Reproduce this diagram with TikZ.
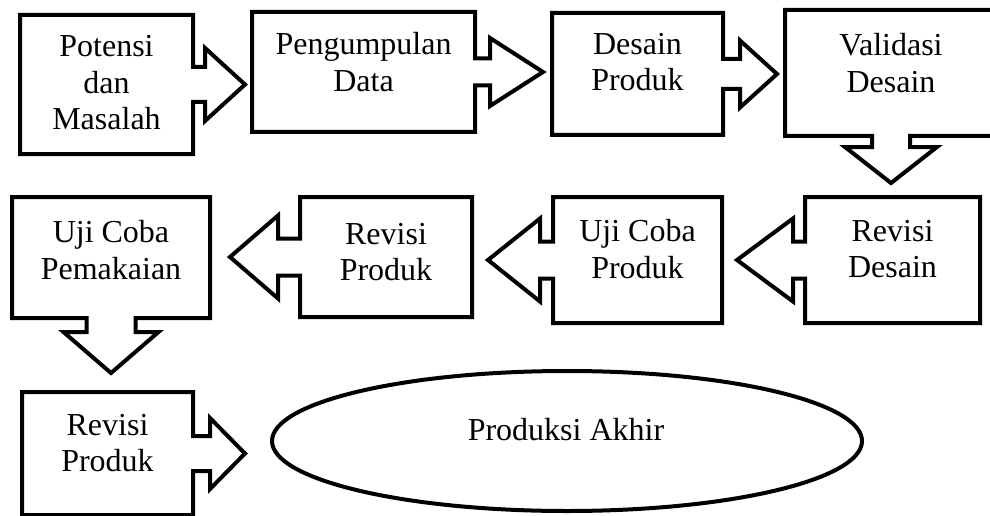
\documentclass[tikz,border=0pt]{standalone}
\usepackage{fontspec}
\setmainfont{Liberation Serif}
\usetikzlibrary{calc,shapes.geometric}
\newcommand{\callright}[6]{%
  \draw[outline] (#1.north west) -- (#1.north east) -- ([yshift=#3]#1.east)
    -- ([xshift=#4,yshift=#3]#1.east) -- ([xshift=#4,yshift=#5]#1.east)
    -- ($(#2.west |- #1.east)+(-#6,0)$)
    -- ([xshift=#4,yshift=-#5]#1.east) -- ([xshift=#4,yshift=-#3]#1.east)
    -- ([yshift=-#3]#1.east) -- (#1.south east) -- (#1.south west) -- cycle;}
\newcommand{\callleft}[6]{%
  \draw[outline] (#1.north east) -- (#1.north west) -- ([yshift=#3]#1.west)
    -- ([xshift=-#4,yshift=#3]#1.west) -- ([xshift=-#4,yshift=#5]#1.west)
    -- ($(#2.east |- #1.west)+(#6,0)$)
    -- ([xshift=-#4,yshift=-#5]#1.west) -- ([xshift=-#4,yshift=-#3]#1.west)
    -- ([yshift=-#3]#1.west) -- (#1.south west) -- (#1.south east) -- cycle;}
\newcommand{\calldown}[6]{%
  \draw[outline] (#1.south west) -- (#1.north west) -- (#1.north east) -- (#1.south east)
    -- ([xshift=#3]#1.south) -- ([xshift=#3,yshift=-#4]#1.south) -- ([xshift=#5,yshift=-#4]#1.south)
    -- ($(#1.south |- #2.north)+(0,-#6)$)
    -- ([xshift=-#5,yshift=-#4]#1.south) -- ([xshift=-#3,yshift=-#4]#1.south)
    -- ([xshift=-#3]#1.south) -- cycle;}

\begin{document}
\begin{tikzpicture}[x=1pt,y=-1pt,
    box/.style={rectangle,inner sep=0,outer sep=0},
    outline/.style={line width=4pt,line join=miter},
    txt/.style={align=center,inner sep=0,font=\fontsize{32}{36.5}\selectfont}]
    \useasboundingbox (0,0) rectangle (990,516);

    \node[box,minimum width=173,minimum height=139] (b1) at (106.5,84.5) {};
    \node[box,minimum width=223,minimum height=120] (b2) at (363.5,72) {};
    \node[box,minimum width=171,minimum height=122] (b3) at (637.5,74) {};
    \node[box,minimum width=212,minimum height=126] (b4) at (891,73) {};
    \node[box,minimum width=175,minimum height=126] (b5) at (892.5,260) {};
    \node[box,minimum width=169,minimum height=126] (b6) at (637.5,260) {};
    \node[box,minimum width=172,minimum height=120] (b7) at (386,257) {};
    \node[box,minimum width=198,minimum height=121] (b8) at (111,257.5) {};
    \node[box,minimum width=171,minimum height=123] (b9) at (107.5,453.5) {};
    \node[ellipse,draw,line width=4pt,minimum width=590,minimum height=140,inner sep=0] (akhir) at (567,441) {};

    \callright{b1}{b2}{17.5}{12}{36.5}{7}
    \callright{b2}{b3}{13.5}{15}{34}{9}
    \callright{b3}{b4}{15}{17}{33.5}{8}
    \calldown{b4}{b5}{19}{11}{46}{14}
    \callleft{b5}{b6}{18.5}{12}{41.5}{15}
    \callleft{b6}{b7}{18.5}{13}{41.5}{16}
    \callleft{b7}{b8}{18.5}{22}{41.5}{20}
    \calldown{b8}{b9}{24.5}{14}{47.5}{19}
    \callright{b9}{akhir}{17.5}{17}{35.5}{25}

    \node[txt] (t1) at (106.5,83) {Potensi\\dan\\Masalah};
    \node[txt] (t2) at (363.5,62) {Pengumpulan\\Data};
    \node[txt] (t3) at (637.5,62) {Desain\\Produk};
    \node[txt] (t4) at (891,63) {Validasi\\Desain};
    \node[txt] (t5) at (892.5,249) {Revisi\\Desain};
    \node[txt] (t6) at (637.5,249) {Uji Coba\\Produk};
    \node[txt] (t7) at (386,252) {Revisi\\Produk};
    \node[txt] (t8) at (111,250) {Uji Coba\\Pemakaian};
    \node[txt] (t9) at (107.5,443) {Revisi\\Produk};
    \node[txt,anchor=base] (t10) at (566,440) {Produksi Akhir};
\end{tikzpicture}
\end{document}
